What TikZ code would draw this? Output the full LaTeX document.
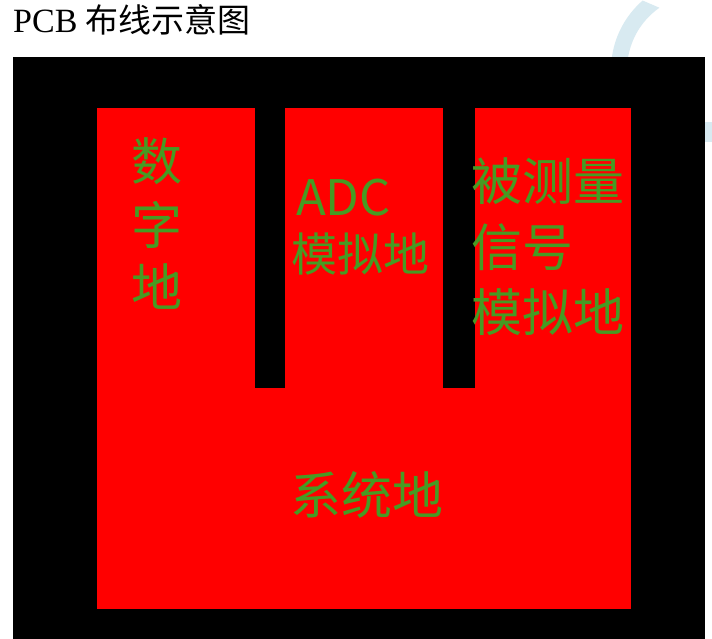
\documentclass[tikz,border=0pt]{standalone}
\usepackage{fontspec}
\setmainfont{Liberation Serif}
\newfontfamily\cjk{Noto Sans CJK SC}
\usetikzlibrary{calc}
\definecolor{pcbred}{RGB}{255,0,0}
\definecolor{silk}{RGB}{70,155,35}
\definecolor{wm}{RGB}{216,234,241}
\begin{document}
\begin{tikzpicture}[x=1pt,y=-1pt,
  lbl/.style={inner sep=0pt, anchor=base west, text=silk, font=\cjk\fontsize{51}{51}\selectfont},
  slot/.style={fill=black}]
\useasboundingbox (0,0) rectangle (712,639);
\fill[white] (0,0) rectangle (712,639);
% watermark arc
\fill[wm] ($(703,70)+(229:92)$) arc[start angle=229, end angle=150, radius=92]
  -- ($(703,70)+(150:76)$) arc[start angle=150, end angle=235, radius=76] -- cycle;
\fill[wm] (704,122) rectangle (712,142);
% board
\fill[black] (13,57) rectangle (705,639);
\fill[pcbred] (97,108) rectangle (631,609);
\fill[slot] (255,108) rectangle (285,388);
\fill[slot] (443,108) rectangle (475,388);
% title
\node[anchor=base west, inner sep=0pt] (title) at (13,33) {\fontsize{34}{34}\selectfont PCB {\cjk\fontsize{33}{33}\selectfont 布线示意图}};
% labels
\node[lbl] (d1) at (131,181) {数};
\node[lbl] (d2) at (131,244) {字};
\node[lbl] (d3) at (131,306) {地};
\node[lbl, font=\cjk\fontsize{49}{49}\selectfont] (a1) at (296,215) {ADC};
\node[lbl, font=\cjk\fontsize{46}{46}\selectfont] (a2) at (291,271) {模拟地};
\node[lbl] (s1) at (471,201) {被测量};
\node[lbl] (s2) at (471,266) {信号};
\node[lbl] (s3) at (471,331) {模拟地};
\node[lbl] (g) at (290,514) {系统地};
\end{tikzpicture}
\end{document}
